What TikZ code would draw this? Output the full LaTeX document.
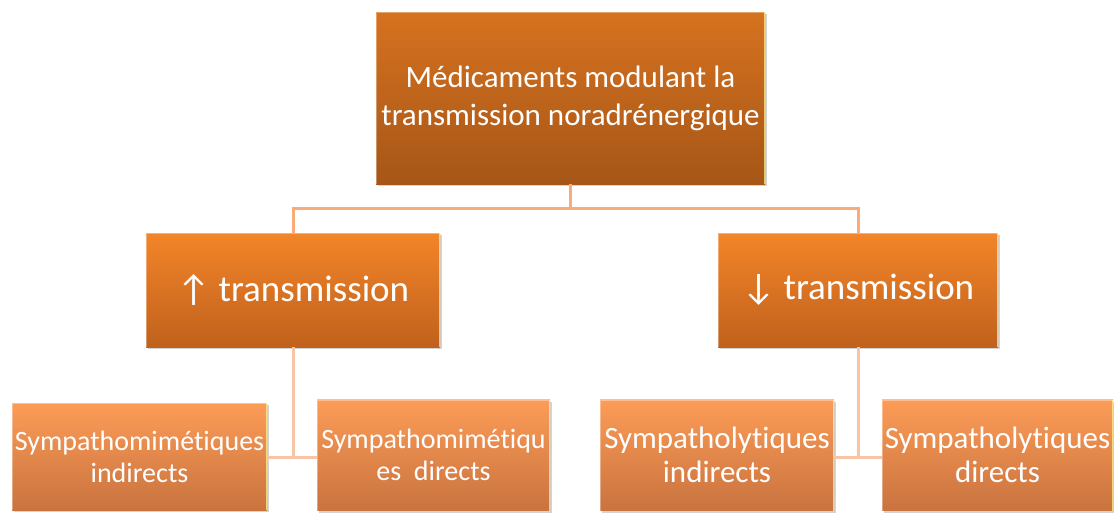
\documentclass[tikz,border=0pt]{standalone}
\usepackage{fontspec}
\setmainfont[Ligatures=NoCommon]{Carlito}
\usetikzlibrary{shadows}
\definecolor{topA}{HTML}{D6721F}
\definecolor{topB}{HTML}{A65618}
\definecolor{midA}{HTML}{F3852A}
\definecolor{midB}{HTML}{C0611C}
\definecolor{botA}{HTML}{FC9C57}
\definecolor{botB}{HTML}{C9733F}
\definecolor{linkA}{HTML}{F9AB78}
\definecolor{linkB}{HTML}{F9C4A6}
\tikzset{
  boxbase/.style={rectangle, inner sep=1pt, align=center, text=white,
    drop shadow={shadow xshift=1.5pt, shadow yshift=-2pt, opacity=0.35},
    path picture={
      \draw[white, opacity=0.35, line width=2.5pt]
        (path picture bounding box.south west) -- (path picture bounding box.north west)
        -- (path picture bounding box.north east);
      \draw[yellow!40, opacity=0.7, line width=2pt]
        (path picture bounding box.north east) -- (path picture bounding box.south east);
    }},
  topbox/.style={boxbase, top color=topA, bottom color=topB,
    font=\fontsize{31}{38}\selectfont},
  midbox/.style={boxbase, top color=midA, bottom color=midB,
    font=\fontsize{37}{44}\selectfont},
  botbox/.style={boxbase, top color=botA, bottom color=botB,
    font=\fontsize{28}{32}\selectfont},
  botboxbig/.style={botbox, font=\fontsize{31}{34}\selectfont},
  linkone/.style={draw=linkA, line width=3pt},
  linktwo/.style={draw=linkB, line width=3pt}
}
\begin{document}
\begin{tikzpicture}[x=1pt,y=-1pt]
\useasboundingbox (0,0) rectangle (1114,515);
\coordinate (hub) at (570.5,208);
\coordinate (jL) at (293,457);
\coordinate (jR) at (858,457);
\node[topbox, minimum width=389pt, minimum height=172pt] (top) at (570.5,98)
  {Médicaments modulant la\\transmission noradrénergique};
\node[midbox, minimum width=294pt, minimum height=114pt] (midL) at (293,290)
  {↑ transmission};
\node[midbox, minimum width=280pt, minimum height=114pt] (midR) at (858,290)
  {↓ transmission};
\draw[linkone] (top.south) -- (hub);
\draw[linkone] (hub) -| (midL.north);
\draw[linkone] (hub) -| (midR.north);
\draw[linktwo] (midL.south) -- (jL);
\draw[linktwo] (midR.south) -- (jR);
\node[botbox, minimum width=255pt, minimum height=107pt] (bLL) at (139.5,456.5)
  {Sympathomimétiques\\indirects};
\node[botbox, minimum width=233pt, minimum height=111pt] (bLR) at (433.5,455)
  {Sympathomimétiqu\\es\ \ directs};
\node[botboxbig, minimum width=234pt, minimum height=111pt] (bRL) at (717,455)
  {Sympatholytiques\\indirects};
\node[botboxbig, minimum width=231pt, minimum height=111pt] (bRR) at (997.5,455)
  {Sympatholytiques\\directs};
\draw[linktwo] (bLL.east |- jL) -- (bLR.west |- jL);
\draw[linktwo] (bRL.east |- jR) -- (bRR.west |- jR);
\end{tikzpicture}
\end{document}
